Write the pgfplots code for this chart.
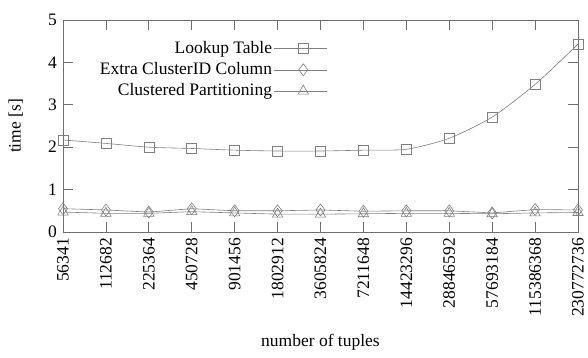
\documentclass[border=0pt]{standalone}
\usepackage{fontspec}
\setmainfont{Liberation Serif}
\usepackage{pgfplots}
\pgfplotsset{compat=1.18}
\usetikzlibrary{calc}
\definecolor{ln}{RGB}{128,128,128}
\definecolor{fr}{RGB}{110,110,110}
\begin{document}
\fontsize{17.5}{20.5}\selectfont
\begin{tikzpicture}
\begin{axis}[
  scale only axis,
  width=515pt, height=212pt,
  xmin=0, xmax=12, ymin=0, ymax=5,
  xtick={0,...,12},
  xticklabels={56341,112682,225364,450728,901456,1802912,3605824,7211648,14423296,28846592,57693184,115386368,230772736},
  ytick={0,1,2,3,4,5},
  x tick label style={rotate=90, anchor=east},
  /pgf/number format/assume math mode=true,
  tick align=inside,
  major tick length=10pt,
  axis line style={fr, line width=0.7pt},
  every tick/.style={fr, line width=0.7pt},
  xtick pos=both, ytick pos=both,
  ylabel={time [s]},
  ylabel style={at={(axis description cs:-0.066,0.5)}, anchor=south},
  xlabel={number of tuples},
  xlabel style={at={(axis description cs:0.5,0)}, anchor=center, yshift=-110pt},
  legend cell align=right,
  legend plot pos=right,
  legend style={at={(0.52,0.92)}, anchor=north east, draw=none, fill=none, row sep=2.5pt, font=\fontsize{17.5}{20.5}\selectfont},
  legend image code/.code={\path (0pt,0pt) -- (5pt,0pt); \draw[mark repeat=2,mark phase=2] plot coordinates {(5pt,0pt) (29pt,0pt) (53pt,0pt)};},
]
\addplot[ln, line width=0.6pt, smooth, tension=0.4, mark=square, mark size=5pt, mark options={solid, line width=0.6pt}] coordinates {
(0,2.17) (1,2.09) (2,2.00) (3,1.97) (4,1.93) (5,1.91) (6,1.91) (7,1.93) (8,1.95) (9,2.21) (10,2.71) (11,3.48) (12,4.43)};
\addlegendentry{Lookup Table}
\addplot[ln, line width=0.6pt, mark=diamond, mark size=6pt, mark options={solid, line width=0.6pt}] coordinates {
(0,0.55) (1,0.52) (2,0.47) (3,0.55) (4,0.50) (5,0.50) (6,0.52) (7,0.49) (8,0.50) (9,0.50) (10,0.45) (11,0.53) (12,0.52)};
\addlegendentry{Extra ClusterID Column}
\addplot[ln, line width=0.6pt, mark=triangle, mark size=6pt, mark options={solid, line width=0.6pt}] coordinates {
(0,0.47) (1,0.44) (2,0.44) (3,0.48) (4,0.45) (5,0.42) (6,0.42) (7,0.43) (8,0.44) (9,0.44) (10,0.43) (11,0.45) (12,0.46)};
\addlegendentry{Clustered Partitioning}
\end{axis}
\pgfresetboundingbox
\path ($(current axis.south west)+(-63pt,-126pt)$) rectangle ($(current axis.north east)+(10pt,20pt)$);
\end{tikzpicture}
\end{document}
